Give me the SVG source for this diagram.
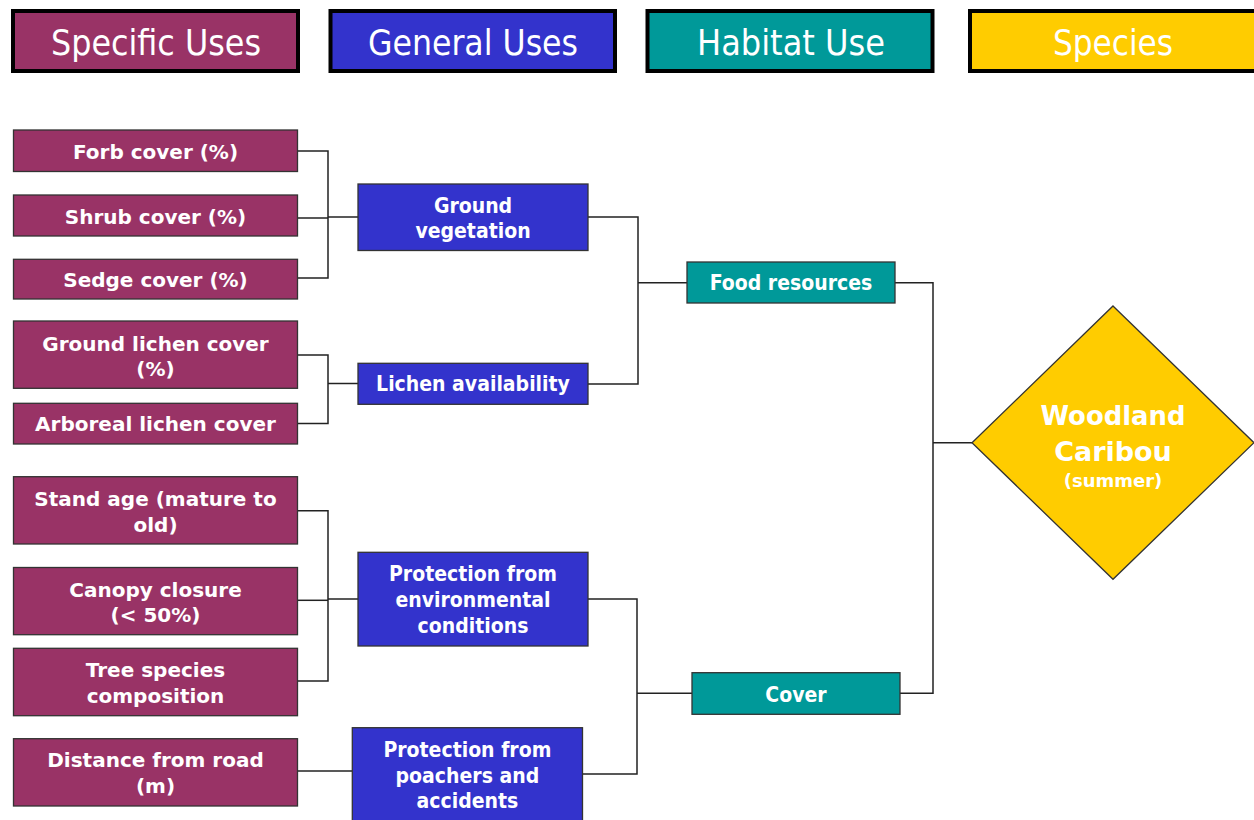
<svg xmlns="http://www.w3.org/2000/svg" width="1254" height="820" viewBox="0 0 1254 820">
  <style>
    .hdr { stroke: #000; stroke-width: 4; }
    .node { stroke: #333; stroke-width: 1.3; }
    .spec { fill: #993366; }
    .gen { fill: #3333CC; }
    .hab { fill: #009999; }
    .sp { fill: #FFCC00; }
    .htxt { font-family: "DejaVu Sans Condensed", "DejaVu Sans", sans-serif; font-size: 36px; fill: #fff; text-anchor: middle; }
    .stxt { font-family: "DejaVu Sans", sans-serif; font-weight: bold; font-size: 20px; fill: #fff; text-anchor: middle; }
    .gtxt { font-family: "DejaVu Sans Condensed", "DejaVu Sans", sans-serif; font-weight: bold; font-size: 21px; fill: #fff; text-anchor: middle; }
    .dtxt { font-family: "DejaVu Sans", sans-serif; font-weight: bold; fill: #fff; text-anchor: middle; }
    .conn { fill: none; stroke: #222; stroke-width: 1.5; }
  </style>
  <rect width="1254" height="820" fill="#fff"/>

  <!-- column headers -->
  <g id="hdr-specific">
    <rect class="hdr spec" x="13" y="11" width="285" height="60"/>
    <text class="htxt" x="156" y="55" textLength="210" lengthAdjust="spacingAndGlyphs">Specific Uses</text>
  </g>
  <g id="hdr-general">
    <rect class="hdr gen" x="330.5" y="11" width="284.5" height="60"/>
    <text class="htxt" x="473" y="55" textLength="210" lengthAdjust="spacingAndGlyphs">General Uses</text>
  </g>
  <g id="hdr-habitat">
    <rect class="hdr hab" x="647.5" y="11" width="285" height="60"/>
    <text class="htxt" x="791" y="55" textLength="188" lengthAdjust="spacingAndGlyphs">Habitat Use</text>
  </g>
  <g id="hdr-species">
    <rect class="hdr sp" x="970" y="11" width="300" height="60"/>
    <text class="htxt" x="1113" y="55" textLength="120" lengthAdjust="spacingAndGlyphs">Species</text>
  </g>

  <!-- connectors -->
  <g id="connectors">
    <path class="conn" d="M298,151 H328 V278 H298"/>
    <path class="conn" d="M298,218 H328"/>
    <path class="conn" d="M328,217 H358"/>
    <path class="conn" d="M298,355 H328 V423.5 H298"/>
    <path class="conn" d="M328,383.5 H358"/>
    <path class="conn" d="M298,510.7 H328 V681 H298"/>
    <path class="conn" d="M298,600.3 H328"/>
    <path class="conn" d="M328,599 H358"/>
    <path class="conn" d="M298,771 H352"/>
    <path class="conn" d="M588,217 H638 V384 H588"/>
    <path class="conn" d="M638,282.7 H687"/>
    <path class="conn" d="M588,599 H637 V774 H582.5"/>
    <path class="conn" d="M637,693.3 H692"/>
    <path class="conn" d="M895,282.7 H933 V693.3 H900"/>
    <path class="conn" d="M933,442.7 H972"/>
  </g>

  <!-- specific uses -->
  <g id="forb">
    <rect class="node spec" x="13.5" y="130" width="284" height="41.5"/>
    <text class="stxt" x="155.5" y="158.5">Forb cover (%)</text>
  </g>
  <g id="shrub">
    <rect class="node spec" x="13.5" y="195" width="284" height="41"/>
    <text class="stxt" x="155.5" y="223.5">Shrub cover (%)</text>
  </g>
  <g id="sedge">
    <rect class="node spec" x="13.5" y="259.3" width="284" height="39.7"/>
    <text class="stxt" x="155.5" y="286.5">Sedge cover (%)</text>
  </g>
  <g id="ground-lichen">
    <rect class="node spec" x="13.5" y="321" width="284" height="67.3"/>
    <text class="stxt" x="155.5" y="350.5">Ground lichen cover</text>
    <text class="stxt" x="155.5" y="376">(%)</text>
  </g>
  <g id="arboreal-lichen">
    <rect class="node spec" x="13.5" y="403.3" width="284" height="40.7"/>
    <text class="stxt" x="155.5" y="431">Arboreal lichen cover</text>
  </g>
  <g id="stand-age">
    <rect class="node spec" x="13.5" y="476.7" width="284" height="67.3"/>
    <text class="stxt" x="155.5" y="506">Stand age (mature to</text>
    <text class="stxt" x="155.5" y="531.7">old)</text>
  </g>
  <g id="canopy">
    <rect class="node spec" x="13.5" y="567.5" width="284" height="67.2"/>
    <text class="stxt" x="155.5" y="596.7">Canopy closure</text>
    <text class="stxt" x="155.5" y="622.3">(&lt; 50%)</text>
  </g>
  <g id="tree-species">
    <rect class="node spec" x="13.5" y="648.3" width="284" height="67.4"/>
    <text class="stxt" x="155.5" y="676.7">Tree species</text>
    <text class="stxt" x="155.5" y="702.7">composition</text>
  </g>
  <g id="distance-road">
    <rect class="node spec" x="13.5" y="738.7" width="284" height="67.3"/>
    <text class="stxt" x="155.5" y="767.3">Distance from road</text>
    <text class="stxt" x="155.5" y="793.3">(m)</text>
  </g>

  <!-- general uses -->
  <g id="ground-vegetation">
    <rect class="node gen" x="358" y="184" width="230" height="66.5"/>
    <text class="gtxt" x="473" y="212.7">Ground</text>
    <text class="gtxt" x="473" y="238.3">vegetation</text>
  </g>
  <g id="lichen-availability">
    <rect class="node gen" x="358" y="363.3" width="230" height="41"/>
    <text class="gtxt" x="473" y="391">Lichen availability</text>
  </g>
  <g id="protection-env">
    <rect class="node gen" x="358" y="552.3" width="230" height="93.7"/>
    <text class="gtxt" x="473" y="580.7">Protection from</text>
    <text class="gtxt" x="473" y="606.7">environmental</text>
    <text class="gtxt" x="473" y="633.3">conditions</text>
  </g>
  <g id="protection-poachers">
    <rect class="node gen" x="352.3" y="727.7" width="230.2" height="100"/>
    <text class="gtxt" x="467.4" y="757.3">Protection from</text>
    <text class="gtxt" x="467.4" y="782.7">poachers and</text>
    <text class="gtxt" x="467.4" y="808.3">accidents</text>
  </g>

  <!-- habitat use -->
  <g id="food-resources">
    <rect class="node hab" x="687" y="262" width="208" height="41"/>
    <text class="gtxt" x="791" y="290">Food resources</text>
  </g>
  <g id="cover">
    <rect class="node hab" x="692" y="672.7" width="208" height="41.6"/>
    <text class="gtxt" x="796" y="701.7">Cover</text>
  </g>

  <!-- species -->
  <g id="woodland-caribou">
    <polygon class="node sp" points="1113,306 1254,442.7 1113,579.3 972,442.7"/>
    <text class="dtxt" x="1113" y="425" font-size="27" textLength="145" lengthAdjust="spacingAndGlyphs">Woodland</text>
    <text class="dtxt" x="1113" y="460.7" font-size="27">Caribou</text>
    <text class="dtxt" x="1113" y="487" font-size="18">(summer)</text>
  </g>
</svg>
